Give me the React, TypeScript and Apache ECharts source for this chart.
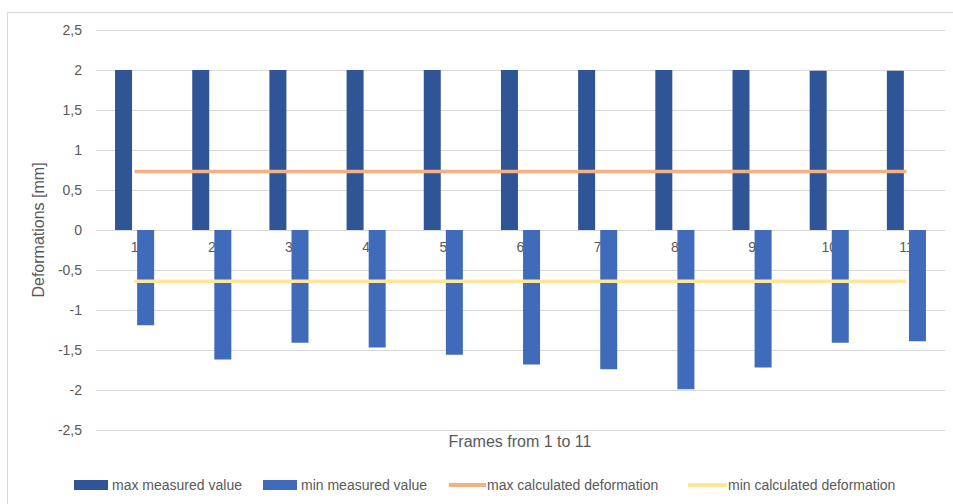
import React, { useEffect, useRef } from "react";
import * as echarts from "echarts";

const categories = ["1", "2", "3", "4", "5", "6", "7", "8", "9", "10", "11"];
const maxMeasured = [2, 2, 2, 2, 2, 2, 2, 2, 2, 1.99, 1.99];
const minMeasured = [-1.19, -1.62, -1.41, -1.47, -1.56, -1.68, -1.74, -1.99, -1.72, -1.41, -1.39];
const maxCalculated = [0.73, 0.73, 0.73, 0.73, 0.73, 0.73, 0.73, 0.73, 0.73, 0.73, 0.73];
const minCalculated = [-0.64, -0.64, -0.64, -0.64, -0.64, -0.64, -0.64, -0.64, -0.64, -0.64, -0.64];
const seriesNames = ["max measured value", "min measured value", "max calculated deformation", "min calculated deformation"];
const xTitle = "Frames from 1 to 11";
const yTitle = "Deformations [mm]";

const FONT = "Liberation Sans";
const C_MAX = "#2F5597";
const C_MIN = "#3F6BBA";
const C_OR = "#F4B183";
const C_YE = "#FFE699";
const TXT = "#595959";

export default function App() {
  const ref = useRef<HTMLDivElement>(null);
  useEffect(() => {
    document.body.style.margin = "0";
    const chart = echarts.init(ref.current!, null, { renderer: "svg" });
    const legendBase = (name: string, left: number, w: number, h: number, color: string, gap: number) => ({
      data: [{ name, icon: "rect", itemStyle: { color } }],
      left,
      top: 478,
      padding: 0,
      itemWidth: w,
      itemHeight: h,
      itemGap: 0,
      selectedMode: false,
      textStyle: { fontFamily: FONT, fontSize: 14, color: TXT, padding: [0, 0, 0, gap - 5] },
    });
    chart.setOption({
      animation: false,
      backgroundColor: "#ffffff",
      grid: { left: 96, right: 8, top: 30, bottom: 74, containLabel: false },
      legend: [
        legendBase(seriesNames[0], 74, 34, 10, C_MAX, 4),
        legendBase(seriesNames[1], 263, 34, 10, C_MIN, 4),
        legendBase(seriesNames[2], 449, 37, 4, C_OR, 1),
        legendBase(seriesNames[3], 688, 39, 4, C_YE, 1),
      ],
      xAxis: {
        type: "category",
        data: categories,
        boundaryGap: true,
        offset: -200.5,
        axisLine: { show: false, onZero: false },
        axisTick: { show: false },
        axisLabel: { fontFamily: FONT, fontSize: 14, color: TXT, margin: 10 },
        splitLine: { show: false },
      },
      yAxis: {
        type: "value",
        min: -2.5,
        max: 2.5,
        interval: 0.5,
        name: yTitle,
        nameLocation: "middle",
        nameGap: 47,
        nameTextStyle: { fontFamily: FONT, fontSize: 16, color: TXT },
        axisLine: { show: false },
        axisTick: { show: false },
        axisLabel: {
          fontFamily: FONT,
          fontSize: 14,
          color: TXT,
          margin: 14,
          formatter: (v: number) => String(Math.round(v * 10) / 10).replace(".", ","),
        },
        splitLine: { show: true, lineStyle: { color: "#D9D9D9", width: 1 } },
      },
      graphic: [
        {
          type: "rect",
          shape: { x: 7.5, y: 12.5, width: 960, height: 500 },
          style: { fill: "none", stroke: "#D9D9D9", lineWidth: 1 },
          silent: true,
          z: -10,
        },
        {
          type: "text",
          x: 520,
          y: 441,
          style: {
            text: xTitle,
            fontFamily: FONT,
            fontSize: 16,
            fill: TXT,
            textAlign: "center",
            textVerticalAlign: "middle",
          },
        },
      ],
      series: [
        {
          name: seriesNames[0],
          type: "bar",
          data: maxMeasured,
          barWidth: 17,
          barGap: "30%",
          itemStyle: { color: C_MAX },
          z: 2,
        },
        {
          name: seriesNames[1],
          type: "bar",
          data: minMeasured,
          barWidth: 17,
          barGap: "30%",
          itemStyle: { color: C_MIN },
          z: 2,
        },
        {
          name: seriesNames[2],
          type: "line",
          data: maxCalculated,
          symbol: "none",
          lineStyle: { color: C_OR, width: 3.5 },
          itemStyle: { color: C_OR },
          z: 3,
        },
        {
          name: seriesNames[3],
          type: "line",
          data: minCalculated,
          symbol: "none",
          lineStyle: { color: C_YE, width: 3.5 },
          itemStyle: { color: C_YE },
          z: 3,
        },
      ],
    });
    return () => chart.dispose();
  }, []);
  return <div ref={ref} style={{ width: 953, height: 504 }} />;
}
